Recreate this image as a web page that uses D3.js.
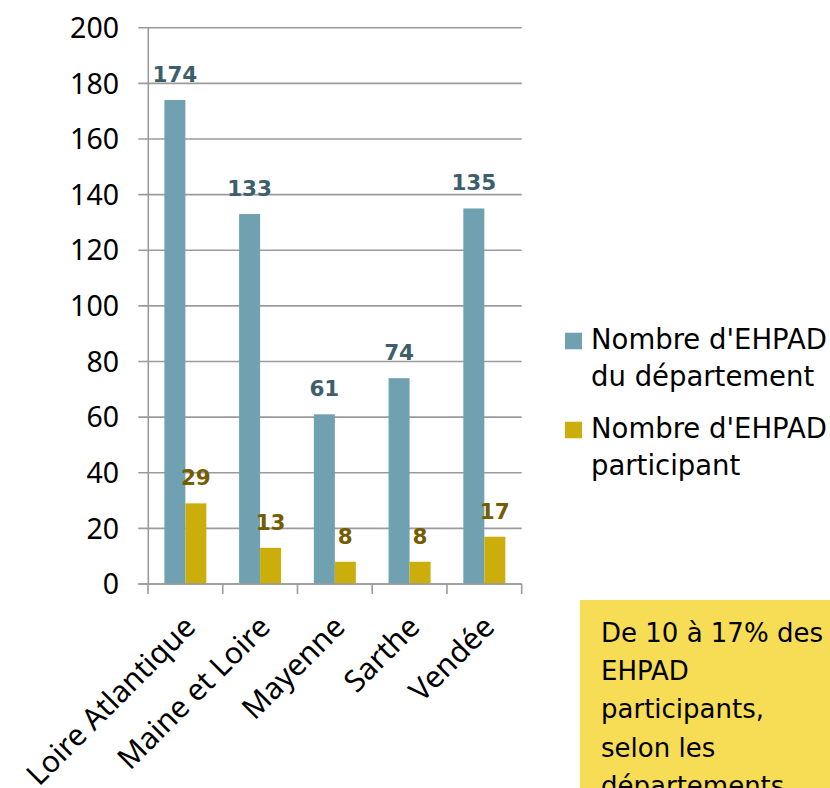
<!DOCTYPE html>
<html>
<head>
<meta charset="utf-8">
<script src="https://cdn.jsdelivr.net/npm/d3@7"></script>
<style>
  body { margin: 0; background: #fff; }
  svg { display: block; }
</style>
</head>
<body>
<div class="chart"></div>
<script>
// departements and the two series
var categories = ['Loire Atlantique', 'Maine et Loire', 'Mayenne', 'Sarthe', 'Vendée'];
var series = ["Nombre d'EHPAD du département", "Nombre d'EHPAD participant"];
var total = [174, 133, 61, 74, 135];
var participants = [29, 13, 8, 8, 17];
var yTicks = [0, 20, 40, 60, 80, 100, 120, 140, 160, 180, 200];
var noteLines = ['De 10 à 17% des', 'EHPAD', 'participants,', 'selon les', 'départements'];

var W = 830, H = 788;
var colors = ['#6fa1b1', '#cbad0c'];
var labelColors = ['#3d5e6b', '#735d00'];

const svg = d3.select('.chart').append('svg')
    .attr('width', W).attr('height', H);

var x = d3.scaleBand().domain(categories).range([148, 521.7]).paddingInner(0).paddingOuter(0);
var xs = d3.scaleBand().domain([0, 1]).range([0, x.bandwidth()]).paddingOuter(0.78).paddingInner(0);
var y = d3.scaleLinear().domain([0, 200]).range([584, 27.7]);

// gridlines + y ticks
var grid = svg.append('g');
grid.selectAll('line').data(yTicks).enter().append('line')
    .attr('x1', 138.3).attr('x2', 521.7)
    .attr('y1', d => y(d)).attr('y2', d => y(d))
    .style('stroke', '#9b9b9b').style('stroke-width', 1.6);

svg.append('g').selectAll('text').data(yTicks).enter().append('text')
    .attr('x', 119).attr('y', d => y(d)).attr('dy', '0.36em')
    .attr('text-anchor', 'end')
    .style('font-family', 'Noto Sans').style('font-size', '28.5px').style('fill', '#000')
    .text(d => d);

// y axis line
svg.append('line').attr('x1', 148.3).attr('x2', 148.3).attr('y1', y(200)).attr('y2', y(0))
    .style('stroke', '#9b9b9b').style('stroke-width', 1.6);

// x ticks at band edges
var edges = categories.map(c => x(c)).concat([x.range()[1]]);
svg.append('g').selectAll('line').data(edges).enter().append('line')
    .attr('x1', d => d).attr('x2', d => d).attr('y1', y(0)).attr('y2', y(0) + 10)
    .style('stroke', '#9b9b9b').style('stroke-width', 1.6);

// bars
var data = [total, participants];
data.forEach(function(vals, s) {
  var g = svg.append('g');
  g.selectAll('rect').data(vals).enter().append('rect')
      .attr('x', (d, i) => x(categories[i]) + xs(s))
      .attr('width', xs.bandwidth())
      .attr('y', d => y(d))
      .attr('height', d => y(0) - y(d))
      .style('fill', colors[s]);
  g.selectAll('text').data(vals).enter().append('text')
      .attr('x', (d, i) => x(categories[i]) + xs(s) + xs.bandwidth() / 2)
      .attr('y', d => y(d) - 18)
      .attr('text-anchor', 'middle')
      .style('font-family', 'DejaVu Sans').style('font-weight', 'bold')
      .style('font-size', '21.5px').style('fill', labelColors[s])
      .text(d => d);
});

// x axis line drawn over bars
svg.append('line').attr('x1', 138.3).attr('x2', 521.7).attr('y1', y(0)).attr('y2', y(0))
    .style('stroke', '#9b9b9b').style('stroke-width', 1.6);

// category labels
svg.append('g').selectAll('text').data(categories).enter().append('text')
    .attr('transform', d => 'translate(' + (x(d) + x.bandwidth() / 2 - 3) + ',' + 614 + ') rotate(-45)')
    .attr('text-anchor', 'end')
    .attr('dy', '0.7em')
    .style('font-family', 'Noto Sans').style('font-size', '30px').style('fill', '#000')
    .text(d => d);

// legend
var legendLines = [["Nombre d'EHPAD", 'du département'], ["Nombre d'EHPAD", 'participant']];
var legendTop = [349.3, 438.3];
legendLines.forEach(function(lines, s) {
  svg.append('rect').attr('x', 565).attr('y', legendTop[s] - 16.6)
      .attr('width', 17).attr('height', 16.6).style('fill', colors[s]);
  svg.append('g').selectAll('text').data(lines).enter().append('text')
      .attr('x', 591).attr('y', (d, i) => legendTop[s] + i * 37)
      .style('font-family', 'DejaVu Sans').style('font-size', '27.5px').style('fill', '#000')
      .text(d => d);
});

// note box (text runs past the bottom edge, as in the slide)
svg.append('rect').attr('x', 580).attr('y', 600).attr('width', W - 580).attr('height', H - 600)
    .style('fill', '#f6dd55');
svg.append('g').selectAll('text').data(noteLines).enter().append('text')
    .attr('x', 601).attr('y', (d, i) => 641.7 + i * 38.3)
    .style('font-family', 'DejaVu Sans').style('font-size', '26px').style('fill', '#000')
    .text(d => d);
</script>
</body>
</html>
